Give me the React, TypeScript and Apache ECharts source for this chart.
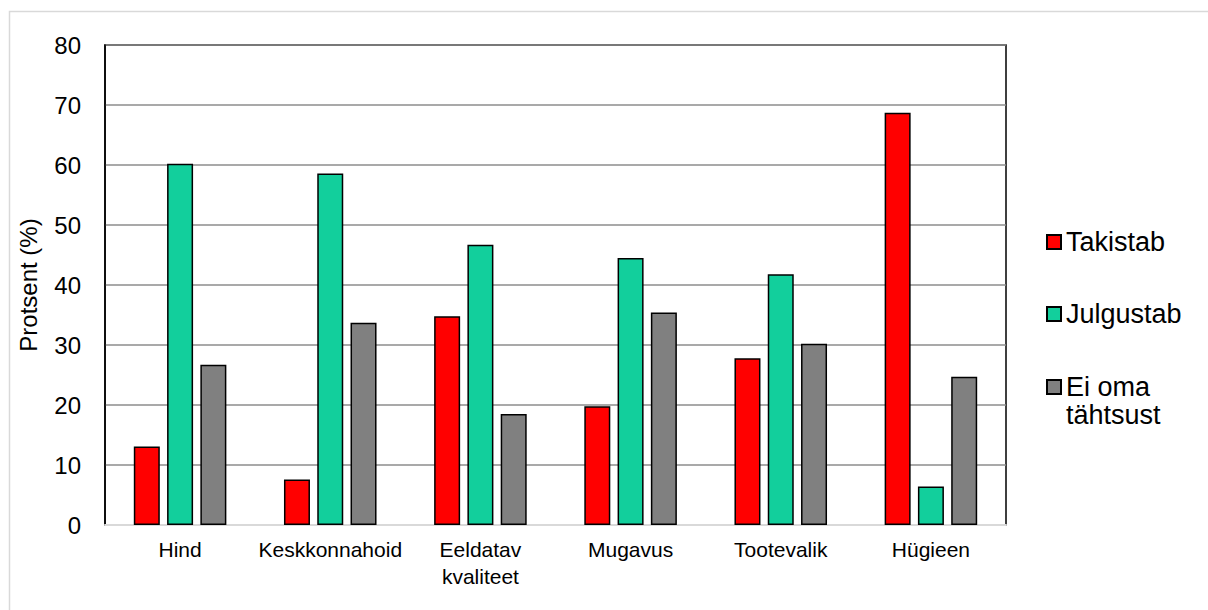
import React, { useEffect, useRef } from 'react';
import * as echarts from 'echarts';

const categories = ['Hind', 'Keskkonnahoid', 'Eeldatav kvaliteet', 'Mugavus', 'Tootevalik', 'Hügieen'];
const seriesNames = ['Takistab', 'Julgustab', 'Ei oma tähtsust'];
const takistab = [13.1, 7.6, 34.8, 19.8, 27.8, 68.7];
const julgustab = [60.2, 58.6, 46.7, 44.5, 41.8, 6.4];
const eiOma = [26.7, 33.7, 18.5, 35.4, 30.2, 24.7];
const colors = ['#ff0000', '#12cf9c', '#808080'];
const yMin = 0;
const yMax = 80;
const yStep = 10;
const yName = 'Protsent (%)';

const FONT = '"Liberation Sans", Arial, sans-serif';

export default function App() {
  const ref = useRef<HTMLDivElement>(null);
  useEffect(() => {
    if (!ref.current) return;
    const chart = echarts.init(ref.current, undefined, { renderer: 'svg' });
    const values = [takistab, julgustab, eiOma];
    const legendTops = [228, 300, 345];
    const option: any = {
      animation: false,
      backgroundColor: '#ffffff',
      textStyle: { fontFamily: FONT },
      graphic: [
        {
          type: 'rect',
          shape: { x: 9.5, y: 11.5, width: 1230, height: 640 },
          style: { fill: 'none', stroke: '#d9d9d9', lineWidth: 1.5 },
          silent: true,
          z: -10,
        },
      ],
      grid: {
        left: 105,
        top: 45,
        width: 901,
        height: 480,
        show: true,
        borderColor: '#000000',
        borderWidth: 1.5,
        backgroundColor: 'transparent',
      },
      legend: seriesNames.map((n, i) => ({
        data: [n],
        left: 1046,
        top: legendTops[i],
        padding: 0,
        itemWidth: 14,
        itemHeight: 14,
        icon: 'rect',
        selectedMode: false,
        formatter: (name: string) => (name === 'Ei oma tähtsust' ? ' \nEi oma\ntähtsust' : name),
        textStyle: {
          fontFamily: FONT,
          fontSize: 27,
          color: '#000000',
          lineHeight: 28,
        },
      })),
      xAxis: {
        type: 'category',
        data: categories,
        axisLine: { show: true, lineStyle: { color: '#d9d9d9', width: 2 } },
        axisTick: { show: false },
        axisLabel: {
          interval: 0,
          margin: 11,
          color: '#000000',
          fontFamily: FONT,
          fontSize: 21,
          lineHeight: 27,
          formatter: (v: string) => v.replace(' ', '\n'),
        },
        splitLine: { show: false },
      },
      yAxis: {
        type: 'value',
        min: yMin,
        max: yMax,
        interval: yStep,
        name: yName,
        nameLocation: 'middle',
        nameGap: 65,
        nameTextStyle: { fontFamily: FONT, fontSize: 24, color: '#000000' },
        axisLine: { show: true, lineStyle: { color: '#000000', width: 1.5 } },
        axisTick: { show: false },
        axisLabel: { margin: 24, color: '#000000', fontFamily: FONT, fontSize: 24 },
        splitLine: { show: true, lineStyle: { color: '#8c8c8c', width: 1.5 } },
      },
      series: seriesNames.map((n, i) => ({
        name: n,
        type: 'bar',
        data: values[i],
        barWidth: 26,
        barGap: '28%',
        itemStyle: { color: colors[i], borderColor: '#000000', borderWidth: 1.5 },
      })),
    };
    chart.setOption(option);
    return () => chart.dispose();
  }, []);
  return (
    <div
      ref={ref}
      style={{ position: 'absolute', left: 0, top: 0, width: 1208, height: 610 }}
    />
  );
}
